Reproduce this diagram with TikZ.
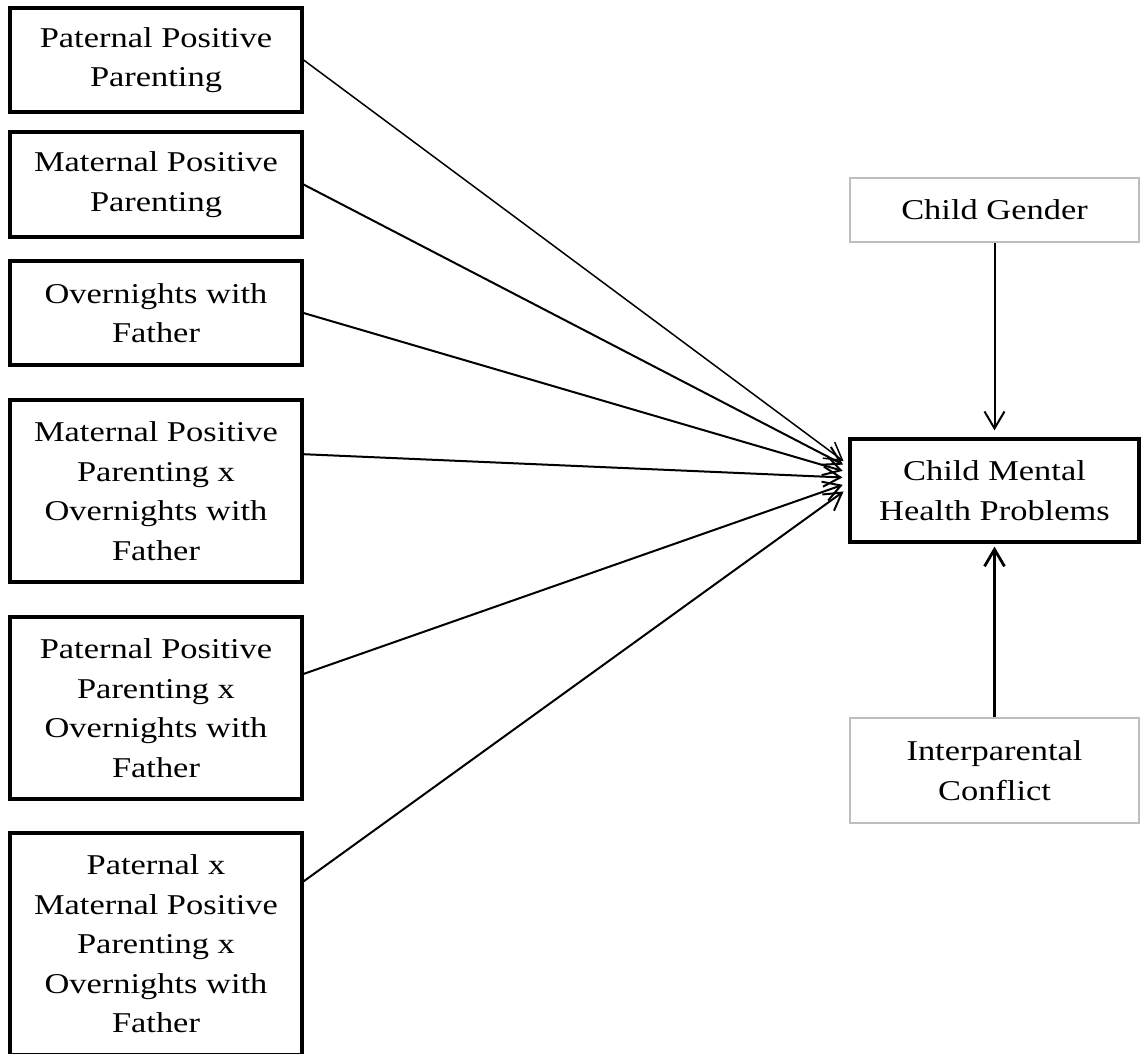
\documentclass[tikz,border=0pt]{standalone}
\usepackage{fontspec}
\setmainfont{Liberation Serif}[FakeStretch=1.2]
\usetikzlibrary{arrows.meta, positioning}
\definecolor{boxgray}{HTML}{BEBEBE}

\begin{document}
\begin{tikzpicture}[x=1pt, y=-1pt,
	varbox/.style={draw=black, line width=3.2pt, minimum width=292pt,
		align=center, inner sep=0pt, font=\fontsize{28.7}{39.5}\selectfont},
	covbox/.style={varbox, draw=boxgray, line width=2.6pt, minimum width=289pt},
	link/.style={line width=2pt, -{Straight Barb[length=17pt,width=20pt]}}]
	\useasboundingbox (0,0) rectangle (1141,1053);
	% predictors
	\node[varbox, minimum height=104pt] (patpp) at (156,60) {Paternal Positive\\Parenting};
	\node[varbox, minimum height=105pt] (matpp) at (156,184.5) {Maternal Positive\\Parenting};
	\node[varbox, minimum height=104pt] (overn) at (156,313) {Overnights with\\Father};
	\node[varbox, minimum height=182pt] (matxov) at (156,491) {Maternal Positive\\Parenting x\\Overnights with\\Father};
	\node[varbox, minimum height=182pt] (patxov) at (156,708) {Paternal Positive\\Parenting x\\Overnights with\\Father};
	\node[varbox, minimum height=222pt] (threeway) at (156,944) {Paternal x\\Maternal Positive\\Parenting x\\Overnights with\\Father};
	% outcome and covariates
	\node[varbox, minimum width=289pt, minimum height=103pt] (cmhp) at (994.5,490.5) {Child Mental\\Health Problems};
	\node[covbox, minimum height=64pt] (gender) at (994.5,210) {Child Gender};
	\node[covbox, minimum height=105pt] (conflict) at (994.5,770.5) {Interparental\\Conflict};
	% paths
	\draw[link, line width=1.5pt, shorten >=6pt] (patpp.east) -- (cmhp.170);
	\draw[link, shorten >=6pt] (matpp.east) -- (cmhp.171);
	\draw[link, shorten >=6pt] (overn.east) -- (cmhp.173);
	\draw[link, shorten >=6pt] (matxov.14) -- (cmhp.175);
	\draw[link, shorten >=6pt] (patxov.13.5) -- (cmhp.177);
	\draw[link, shorten >=6pt] (threeway.23) -- (cmhp.179);
	\draw[link, shorten >=7pt] (gender) -- (cmhp);
	\draw[link, line width=2.8pt, shorten >=3pt] (conflict) -- (cmhp);
\end{tikzpicture}
\end{document}
